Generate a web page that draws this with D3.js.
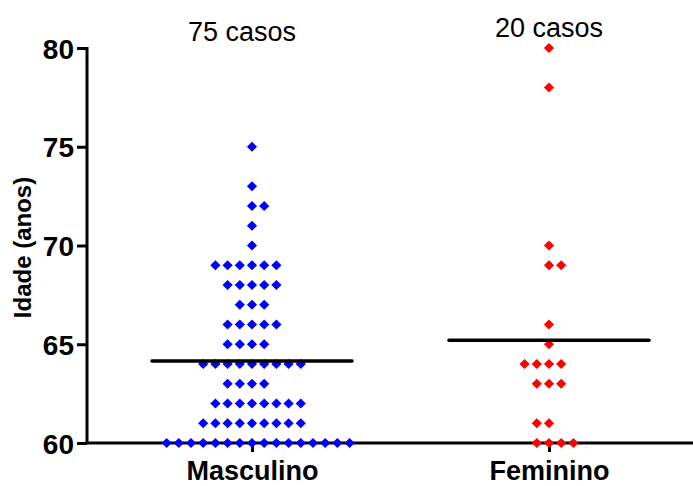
<!DOCTYPE html>
<html>
<head>
<meta charset="utf-8">
<script src="https://cdn.jsdelivr.net/npm/d3@7"></script>
<style>
  html, body { margin: 0; padding: 0; background: #fff; overflow: hidden; }
  svg { display: block; }
</style>
</head>
<body>
<svg id="chart" width="693" height="486"></svg>
<script>
// ---- data ----
const categories = ["Masculino", "Feminino"];
const countLabels = ["75 casos", "20 casos"];
const masculinoAges = [
  75, 73, 72, 72, 71, 70,
  69, 69, 69, 69, 69, 69,
  68, 68, 68, 68, 68,
  67, 67, 67,
  66, 66, 66, 66, 66,
  65, 65, 65, 65,
  64, 64, 64, 64, 64, 64, 64, 64, 64,
  63, 63, 63, 63,
  62, 62, 62, 62, 62, 62, 62, 62,
  61, 61, 61, 61, 61, 61, 61, 61, 61,
  60, 60, 60, 60, 60, 60, 60, 60, 60, 60, 60, 60, 60, 60, 60, 60
];
const femininoAges = [80, 78, 70, 69, 69, 66, 65, 64, 64, 64, 64, 63, 63, 63, 61, 61, 60, 60, 60, 60];
const yTicks = [60, 65, 70, 75, 80];
const yTitle = "Idade (anos)";
const seriesColors = ["#0000ff", "#ff0000"];

// ---- layout config (row lean for even-count rows) ----
const leanLeft = { Masculino: [69, 65, 63], Feminino: [64, 61] };

const svg = d3.select("#chart");
const font = "'Liberation Sans', Arial, sans-serif";
const axisLeftX = 87, axisBottomY = 443;

const y = d3.scaleLinear().domain([60, 80]).range([443, 48]);
const x = d3.scalePoint().domain(categories).range([252, 549]);
const dx = 12.2;

const groups = [masculinoAges, femininoAges];

// build dots
const dots = [];
categories.forEach((cat, ci) => {
  const ages = groups[ci];
  const byAge = d3.group(ages, a => a);
  for (const [age, arr] of byAge) {
    const n = arr.length;
    let start;
    if (n % 2 === 1) start = -(n - 1) / 2;
    else start = (leanLeft[cat] || []).includes(age) ? -n / 2 : -(n / 2 - 1);
    for (let i = 0; i < n; i++) {
      dots.push({ cat, ci, age, off: start + i });
    }
  }
});

// axes
const yAxis = d3.axisLeft(y).tickValues(yTicks).tickSize(10).tickSizeOuter(0).tickPadding(3);
const gy = svg.append("g").attr("transform", `translate(${axisLeftX},0)`).call(yAxis);
gy.select(".domain").attr("stroke", "#000").attr("stroke-width", 3)
  .attr("d", `M0,${y(80) - 1}V${axisBottomY}`);
gy.selectAll(".tick line").attr("stroke", "#000").attr("stroke-width", 3);
gy.selectAll(".tick text").attr("fill", "#000")
  .style("font-family", font).style("font-size", "28px").style("font-weight", "bold")
  .attr("dy", "0.36em");

const xAxis = d3.axisBottom(x).tickSize(9).tickSizeOuter(0).tickPadding(10);
const gx = svg.append("g").attr("transform", `translate(0,${axisBottomY})`).call(xAxis);
gx.select(".domain").attr("stroke", "#000").attr("stroke-width", 3)
  .attr("d", `M${axisLeftX - 1.5},0H693`);
gx.selectAll(".tick line").attr("stroke", "#000").attr("stroke-width", 3);
gx.selectAll(".tick text").attr("fill", "#000")
  .style("font-family", font).style("font-size", "27px").style("font-weight", "bold")
  .attr("y", 0).attr("dy", 37);

// y title
svg.append("text")
  .attr("transform", `translate(31,${(y(60) + y(80)) / 2 + 2}) rotate(-90)`)
  .attr("text-anchor", "middle")
  .style("font-family", font).style("font-size", "24px").style("font-weight", "bold")
  .text(yTitle);

// dots
const sym = d3.symbol().type(d3.symbolSquare).size(52);
svg.append("g").selectAll("path").data(dots).join("path")
  .attr("d", sym)
  .attr("transform", d => `translate(${x(d.cat) + d.off * dx},${y(d.age)}) rotate(45)`)
  .attr("fill", d => seriesColors[d.ci]);

// mean lines
svg.append("g").selectAll("line").data(categories).join("line")
  .attr("x1", c => x(c) - 100).attr("x2", c => x(c) + 100)
  .attr("y1", (c, i) => y(d3.mean(groups[i])))
  .attr("y2", (c, i) => y(d3.mean(groups[i])))
  .attr("stroke", "#000").attr("stroke-width", 3.5).attr("stroke-linecap", "round");

// count labels
const labelY = [41, 37];
svg.append("g").selectAll("text").data(categories).join("text")
  .attr("x", (c, i) => x(c) - (i === 0 ? 10 : 0))
  .attr("y", (c, i) => labelY[i])
  .attr("text-anchor", "middle")
  .style("font-family", font).style("font-size", "27px")
  .attr("fill", "#000")
  .text((c, i) => countLabels[i]);
</script>
</body>
</html>
